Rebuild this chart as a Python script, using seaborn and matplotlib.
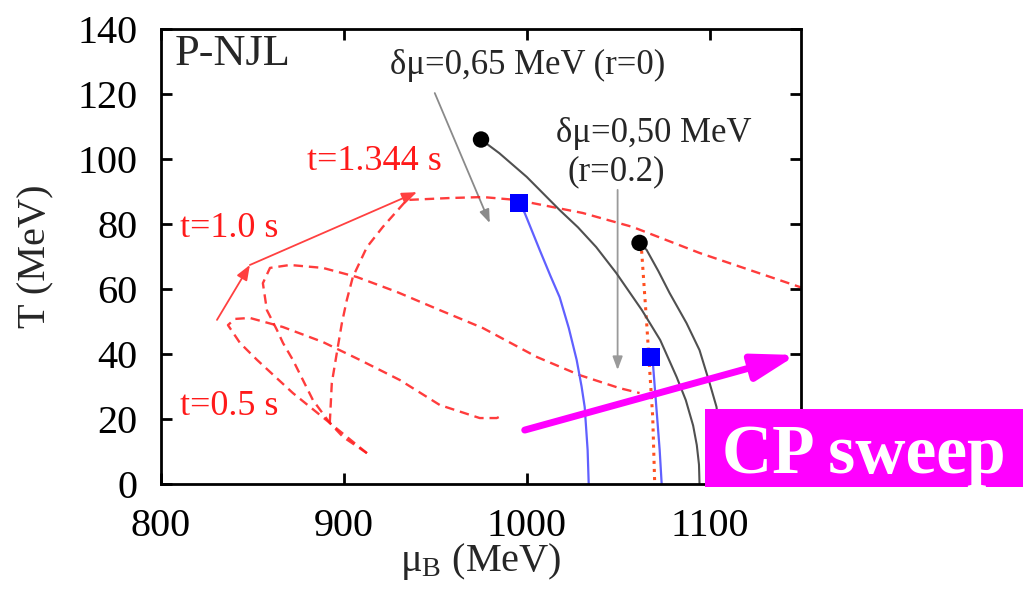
import matplotlib.pyplot as plt
from matplotlib.patches import Rectangle, FancyArrowPatch
import seaborn as sns

# --- data (mu_B in MeV, T in MeV) ---
# critical lines ending in the critical points (black)
mu_line65 = [975, 985, 1000, 1018, 1028, 1038, 1049, 1063, 1073, 1082, 1087, 1091, 1093, 1094.2, 1094.5]
T_line65 = [106, 101.8, 94.5, 84.3, 79, 72.9, 64.9, 53.5, 44.3, 32.9, 25.8, 18, 12, 6, 0]
mu_line50 = [1061.7, 1065.6, 1072, 1078.1, 1087.4, 1094.5, 1100, 1103.8, 1105.5, 1106.4, 1106.6]
T_line50 = [74.2, 72, 65.5, 58.8, 49.5, 41.2, 31.1, 23.7, 13.5, 6, 0]

# blue lines starting at the squares
mu_blue1 = [995.6, 998.9, 1007.1, 1013, 1018, 1023, 1027.3, 1030, 1031.7, 1033.3, 1033.9]
T_blue1 = [86.5, 83.4, 72, 64, 57.5, 48, 38.2, 30, 23.7, 10.5, 0]
mu_blue2 = [1067.8, 1069, 1071, 1072.7, 1073.8]
T_blue2 = [39, 37.2, 22.8, 10.5, 0]

# red dotted line (r=0.2)
mu_dot = [1061.7, 1062.8, 1065.6, 1068.9, 1070]
T_dot = [74.2, 72, 49.5, 20.6, 0]

# critical points and squares
mu_cp = [975, 1061.7]
T_cp = [106, 74.2]
mu_sq = [995.6, 1067.8]
T_sq = [86.5, 39]

# red dashed profiles (t = 0.5 s, 1.0 s, 1.344 s)
mu_p05 = [912.6, 892.3, 872.1, 852.5, 843.2, 836.6, 840.4, 848.6, 866.7, 888.5,
          908.7, 930.6, 952.5, 974.3, 983.6, 986.9]
T_p05 = [9.5, 18.8, 28, 38.2, 43.4, 48.9, 50.8, 51.1, 48.3, 43.7,
         38.2, 32, 24.3, 20.3, 20.3, 21.2]
mu_p10 = [912.6, 899.5, 892.3, 883.1, 877.6, 872.1, 866.7, 863.4, 857.9, 855.7,
          859.6, 870.5, 888.5, 907.1, 929, 952.5, 976, 1005.5, 1029, 1050.8, 1061.7]
T_p10 = [9.5, 14.5, 18.8, 25.8, 32, 38.2, 43.4, 47.4, 53.5, 61.8,
         66.5, 67.4, 66.5, 63.7, 59.1, 53.5, 48, 39.1, 33.5, 29.5, 28]
mu_p13 = [892.3, 893.4, 896.7, 898.9, 901.6, 904.9, 912.6, 921.3, 934.4, 957.9,
          976, 994.5, 1030.6, 1057.9, 1094.5, 1150]
T_p13 = [18.8, 31.1, 42.2, 49.5, 56.6, 63.7, 72.9, 79.1, 87.4, 88,
         88.3, 87.4, 83.4, 79.1, 71.1, 60.5]

# time evolution arrows
mu_evol = [830.6, 848.6, 939.9]
T_evol = [50.5, 67.4, 89.8]

# annotation arrows
arrow65 = [(949.7, 120.3), (979.8, 80.3)]
arrow50 = [(1049.7, 90.5), (1049.7, 35.1)]
sweep = [(998.9, 16.6), (1147.5, 39.7)]

x_ticks = [800, 900, 1000, 1100]
y_ticks = [0, 20, 40, 60, 80, 100, 120, 140]

sns.set_theme(style="ticks")
plt.rcParams['font.family'] = ['Liberation Serif', 'DejaVu Serif']
plt.rcParams['mathtext.fontset'] = 'custom'
plt.rcParams['mathtext.rm'] = 'Liberation Serif'
plt.rcParams['mathtext.it'] = 'Liberation Serif:italic'

fig = plt.figure(figsize=(10.23, 5.91), dpi=100)
ax = fig.add_axes([0.1574, 0.1810, 0.6256, 0.7699])

red = '#ff1a1a'
dash = (0, (4, 2.5))

for mu, T in [(mu_p05, T_p05), (mu_p10, T_p10), (mu_p13, T_p13)]:
    sns.lineplot(x=mu, y=T, ax=ax, sort=False, estimator=None, color=red,
                 linewidth=1.7, linestyle=dash, alpha=0.85)

sns.lineplot(x=mu_dot, y=T_dot, ax=ax, sort=False, estimator=None,
             color='#ff5020', linewidth=2.2, linestyle=':')

for mu, T in [(mu_blue1, T_blue1), (mu_blue2, T_blue2)]:
    sns.lineplot(x=mu, y=T, ax=ax, sort=False, estimator=None,
                 color='#6060ff', linewidth=1.6)
for mu, T in [(mu_line65, T_line65), (mu_line50, T_line50)]:
    sns.lineplot(x=mu, y=T, ax=ax, sort=False, estimator=None,
                 color='#505050', linewidth=1.5)

sns.scatterplot(x=mu_cp, y=T_cp, ax=ax, color='black', s=140, marker='o',
                edgecolor='none', zorder=5)
sns.scatterplot(x=mu_sq, y=T_sq, ax=ax, color='#0000ff', s=170, marker='s',
                edgecolor='none', zorder=5)

# red time-evolution arrows
for i in range(len(mu_evol) - 1):
    ax.add_patch(FancyArrowPatch((mu_evol[i], T_evol[i]), (mu_evol[i + 1], T_evol[i + 1]),
                                 arrowstyle='-|>,head_length=9,head_width=3.5',
                                 color='#ff4040', linewidth=1.3, shrinkA=0, shrinkB=0))

# grey annotation arrows
ax.add_patch(FancyArrowPatch(arrow65[0], arrow65[1], arrowstyle='-|>,head_length=8,head_width=3',
                             color='#8a8a8a', linewidth=1.3, shrinkA=0, shrinkB=0))
ax.add_patch(FancyArrowPatch(arrow50[0], arrow50[1], arrowstyle='-|>,head_length=8,head_width=3',
                             color='#9a9a9a', linewidth=1.3, shrinkA=0, shrinkB=0))

# CP sweep arrow
ax.add_patch(FancyArrowPatch(sweep[0], sweep[1], arrowstyle='-|>,head_length=26,head_width=8',
                             color='#ff00ff', linewidth=5, shrinkA=0, shrinkB=0,
                             clip_on=False, zorder=6))

ax.text(807.7, 129, 'P-NJL', fontsize=32, ha='left', va='baseline')
ax.text(1000.3, 126.2, 'δμ=0,65 MeV (r=0)', fontsize=25, ha='center', va='baseline')
ax.text(1069.4, 105.2, 'δμ=0,50 MeV', fontsize=25, ha='center', va='baseline')
ax.text(1049.2, 93.5, '(r=0.2)', fontsize=25, ha='center', va='baseline')
ax.text(879.8, 96.6, 't=1.344 s', fontsize=26, color=red, ha='left', va='baseline')
ax.text(810.4, 76.0, 't=1.0 s', fontsize=26, color=red, ha='left', va='baseline')
ax.text(810.4, 21.2, 't=0.5 s', fontsize=26, color=red, ha='left', va='baseline')

ax.set_xlim(800, 1150)
ax.set_ylim(0, 140)
ax.set_xticks(x_ticks)
ax.set_yticks(y_ticks)
ax.tick_params(direction='in', length=8, width=2, top=True, right=True,
               labelsize=29, pad=17, colors='black')
for s in ax.spines.values():
    s.set_linewidth(2)
    s.set_color('black')

ax.set_xlabel(r'μ$_{\mathrm{B}}$ (MeV)', fontsize=29)
ax.set_ylabel('T (MeV)', fontsize=29)
ax.xaxis.set_label_coords(0.5, -0.125)
ax.yaxis.set_label_coords(-0.166, 0.5)

# "CP sweep" box
fig.add_artist(Rectangle((0.689, 0.176), 0.311, 0.132, transform=fig.transFigure,
                         facecolor='#ff00ff', edgecolor='none', zorder=10))
fig.text(0.8446, 0.1997, 'CP sweep', fontsize=50, fontweight='bold', color='white',
         ha='center', va='baseline', zorder=11)

fig.savefig('out.png', dpi=100)
